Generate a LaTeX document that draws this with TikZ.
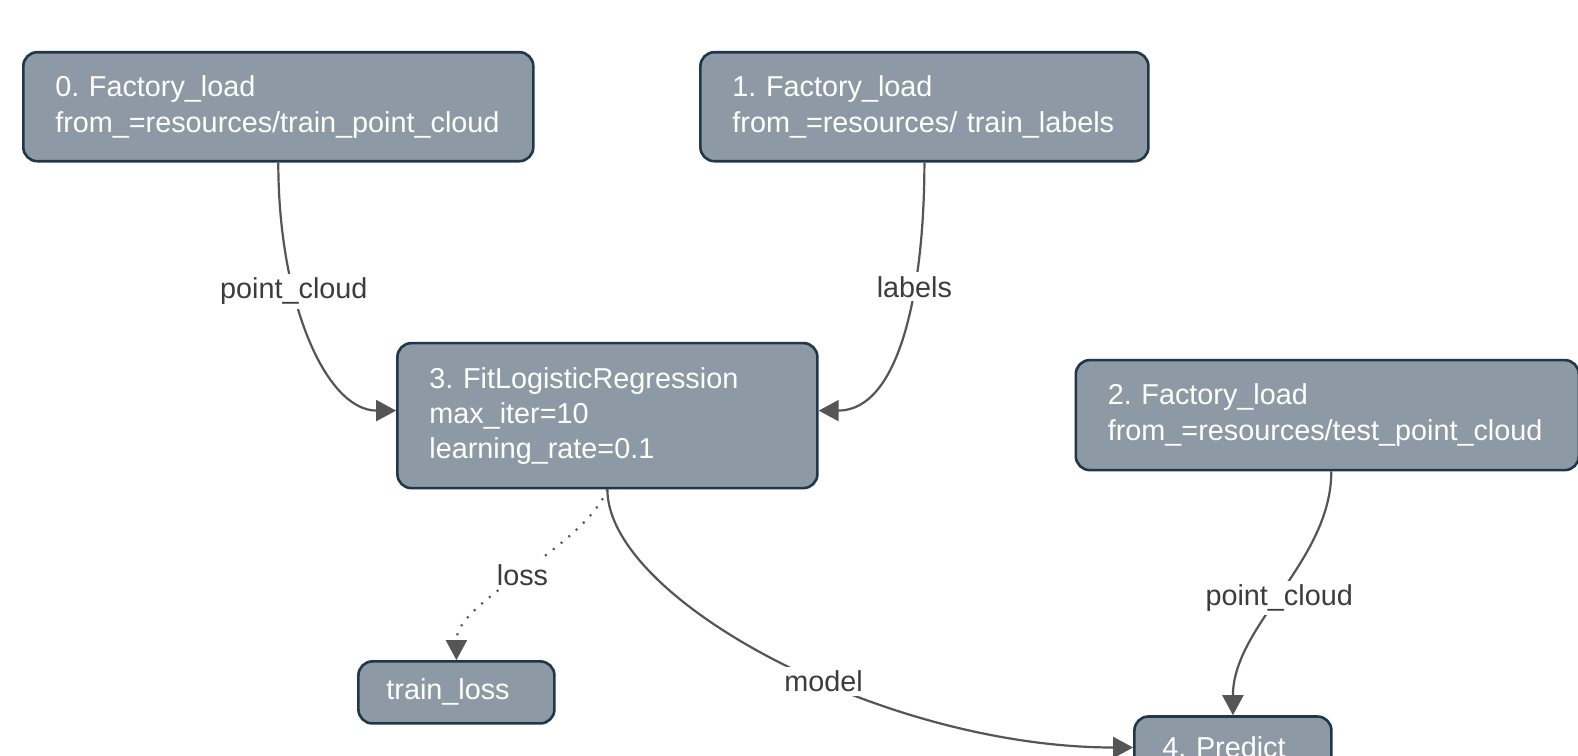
\documentclass[tikz,border=0pt]{standalone}
\usepackage{fontspec}
\setmainfont{Liberation Sans}
\usetikzlibrary{arrows.meta}
\definecolor{boxfill}{HTML}{8D9AA5}
\definecolor{boxline}{HTML}{1F374B}
\definecolor{edgecol}{HTML}{555555}
\definecolor{labcol}{HTML}{3C3C3C}
\frenchspacing
\begin{document}
\begin{tikzpicture}[x=0.5pt,y=-0.5pt,
  box/.style={draw=boxline, line width=1.3pt, fill=boxfill, rounded corners=7pt, text=white,
    font=\fontsize{14.4}{18}\selectfont, align=left, inner xsep=16pt, inner ysep=0pt, anchor=center},
  elabel/.style={fill=white, text=labcol, font=\fontsize{14.4}{17}\selectfont, inner sep=2pt},
  conn/.style={draw=edgecol, line width=1.1pt, -{Triangle[length=10pt,width=10.5pt]}},
  dotconn/.style={conn, dash pattern=on 1pt off 4pt}]
\clip (0,0) rectangle (1578,755);
\fill[white] (0,0) rectangle (1578,755);
\node[box, text width=223pt, minimum height=54.5pt] (n0) at (278.3,106.7)
  {0. Factory\_load\\from\_=resources/train\_point\_cloud};
\node[box, text width=192pt, minimum height=54.5pt] (n1) at (924.4,106.7)
  {1. Factory\_load\\from\_=resources/ train\_labels};
\node[box, text width=178pt, minimum height=72.5pt, font=\fontsize{14.4}{17.5}\selectfont] (n3) at (607.4,415.6)
  {3. FitLogisticRegression\\max\_iter=10\\learning\_rate=0.1};
\node[box, text width=219.5pt, minimum height=55pt] (n2) at (1327.3,415.1)
  {2. Factory\_load\\from\_=resources/test\_point\_cloud};
\node[box, inner xsep=14pt, text width=70pt, minimum height=31pt] (tl) at (456.4,692.4)
  {train\_loss};
\node[box, inner xsep=14pt, text width=70.5pt, minimum height=31pt] (n4) at (1232.9,747.5)
  {4. Predict};
\draw[conn] (n0.south) .. controls +(0,140) and +(-70,0) ..
  node[elabel, pos=0.34] {point\_cloud} ([yshift=2.5pt]n3.west);
\draw[conn] (n1.south) .. controls +(0,130) and +(80,0) ..
  node[elabel, pos=0.34] {labels} ([yshift=2.5pt]n3.east);
\draw[dotconn] (n3.south) .. controls +(-25,60) and +(0,-60) ..
  node[elabel, pos=0.5] {loss} (tl.north);
\draw[conn] (n3.south) .. controls +(0,110) and +(-250,0) ..
  node[elabel, pos=0.575] {model} (n4.west);
\draw[conn] ([xshift=2pt]n2.south) .. controls +(0,90) and +(0,-90) ..
  node[elabel, pos=0.52] {point\_cloud} (n4.north);
\end{tikzpicture}
\end{document}
